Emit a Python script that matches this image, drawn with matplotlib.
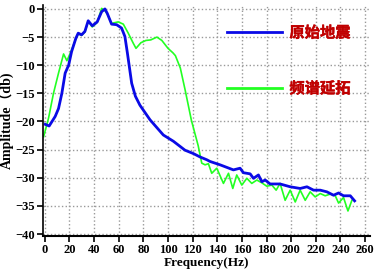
import numpy as np
import matplotlib
matplotlib.use("Agg")
import matplotlib.pyplot as plt
import matplotlib.patheffects as pe

# original seismic spectrum
freq_orig = [0.3, 3.5, 8.4, 11.1, 13.8, 16.5, 19.3, 21.7, 25.2, 27.1, 29.8, 32.5, 35.2, 38.5,
             42.5, 46.1, 48.8, 50.7, 54.2, 58.3, 62.3, 65, 67, 70.5, 73.5, 77.2, 85.4, 96.2,
             104.3, 113.8, 120.6, 126, 131.5, 134.1, 142.3, 153.1, 158.5, 161.2, 166.7, 169.4,
             173.4, 176.2, 178.9, 182.9, 191, 199.2, 207.3, 212.8, 218.2, 223.6, 229, 234.4,
             238.5, 242.5, 248, 251.5]
amp_orig = [-20.5, -20.8, -19.1, -17.7, -15.0, -11.4, -10.0, -7.6, -5.2, -4.3, -4.6, -4.0, -2.1, -3.0,
            -2.3, -0.5, 0.0, -0.8, -2.7, -2.8, -3.4, -4.9, -7.8, -13.2, -15.5, -17.1, -19.7, -22.4,
            -23.5, -25.1, -25.7, -26.3, -26.8, -27.1, -27.7, -28.6, -28.3, -29.1, -29.3, -30.1,
            -29.5, -30.7, -30.4, -31.1, -31.1, -31.6, -31.9, -31.6, -32.2, -32.2, -32.5, -33.1,
            -32.7, -33.2, -33.2, -34.1]

# spectrum after extension
freq_ext = [-1, 3, 7, 11.1, 15.2, 17.9, 20.6, 25.2, 27.1, 29.8, 32.5, 35.2, 38.5, 42.5, 46.1,
            48.8, 50.7, 54.2, 55.5, 59.6, 63.7, 67.7, 71.8, 74, 78, 82, 86, 91, 95, 100, 104,
            106, 110, 114, 119, 124.5, 127.4, 130.1, 132.8, 135.5, 139.6, 145, 149.1, 152.6,
            155.8, 159.9, 164, 168, 172.1, 176.2, 180.2, 184.3, 187.8, 191, 195.1, 199.2, 203.3,
            207.3, 211.4, 215.4, 219.5, 223.6, 227.6, 231.7, 235.8, 238.5, 242.5, 246.1, 249.3]
amp_ext = [-22.7, -19.4, -15.0, -11.4, -8.0, -9.2, -7.9, -5.3, -4.4, -4.7, -4.1, -2.2, -3.2, -2.4, 0.1,
           -0.3, -0.9, -2.6, -2.5, -2.3, -2.7, -4.3, -6.1, -7.0, -6.0, -5.6, -5.5, -5.0, -5.6, -7.0, -7.8,
           -8.3, -10.5, -14.5, -19.8, -24.3, -27.4, -27.7, -27.5, -29.2, -28.3, -31.0, -29.2, -31.9,
           -29.5, -31.3, -30.1, -31.0, -30.4, -30.9, -31.5, -31.3, -32.2, -31.0, -34.0, -32.2, -34.3,
           -32.2, -34.0, -32.5, -33.4, -32.8, -33.2, -32.9, -33.2, -34.5, -33.5, -35.9, -34.0]

labels = ['原始地震', '频谱延拓']
xticks = np.arange(0, 261, 20)
yticks = np.arange(-40, 1, 5)

fig = plt.figure(figsize=(3.78, 2.78), dpi=100)
ax = fig.add_axes([43/378, 0.152, 327/378, 0.830])

l2, = ax.plot(freq_ext, amp_ext, color='#22FF22', lw=1.2)
l1, = ax.plot(freq_orig, amp_orig, color='#0A0AE6', lw=2.0)

ax.set_xlim(-1.5, 264)
ax.set_ylim(-40.3, 0.7)
ax.set_xticks(xticks)
ax.set_yticks(yticks)
ax.grid(True, color='#999999', linestyle=':', linewidth=1.0)
for s in ['top', 'right']:
    ax.spines[s].set_visible(False)
ax.spines['left'].set_linewidth(1.2)
ax.spines['bottom'].set_linewidth(1.5)
ax.tick_params(direction='out', length=4, width=1.2, labelsize=9, pad=2)
for t in ax.get_xticklabels() + ax.get_yticklabels():
    t.set_family('Liberation Serif')
    t.set_fontweight('bold')

ax.set_xlabel('Frequency(Hz)', family='Liberation Serif', fontweight='bold', fontsize=9.5, labelpad=1)
ax.set_ylabel('Amplitude（db)', family=['Liberation Serif', 'Noto Sans CJK SC'],
              fontweight='bold', fontsize=10, labelpad=0)

leg = ax.legend([l1, l2], labels, loc='upper left', bbox_to_anchor=(0.52, 0.975),
                frameon=False, handlelength=3.6, labelspacing=2.6, handletextpad=0.5,
                prop={'family': 'Noto Sans CJK SC', 'weight': 'black', 'size': 11})
for t in leg.get_texts():
    t.set_color('#C00000')
    t.set_path_effects([pe.withStroke(linewidth=0.3, foreground='#C00000')])
leg.get_lines()[0].set_linewidth(2.0)
leg.get_lines()[1].set_linewidth(2.0)

fig.savefig('out.png', dpi=100)
